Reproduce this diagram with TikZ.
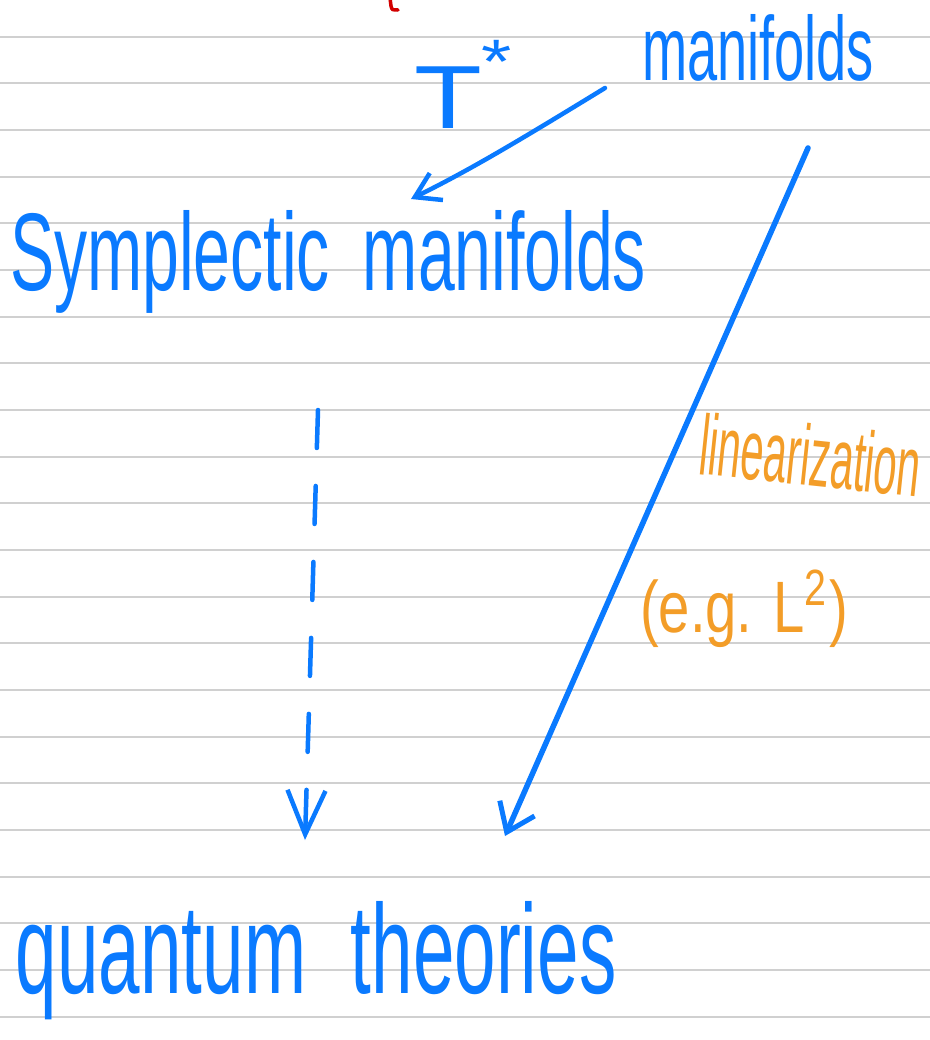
\documentclass[tikz,border=0pt]{standalone}
\usepackage{fontspec}
\setmainfont{Liberation Sans}
\usetikzlibrary{arrows.meta}
\definecolor{penblue}{RGB}{10,122,255}
\definecolor{penorange}{RGB}{243,157,40}
\definecolor{rule}{RGB}{208,208,208}
\definecolor{penred}{RGB}{210,0,0}
\begin{document}
\begin{tikzpicture}[x=1bp,y=-1bp,
  hw/.style={inner sep=0pt,outer sep=0pt,text=penblue},
  hwo/.style={inner sep=0pt,outer sep=0pt,text=penorange},
  pen/.style={draw=penblue,line width=4.5bp,line cap=round,line join=round},
  ruleline/.style={draw=rule,line width=2bp}]
\fill[white] (0,0) rectangle (930,1040);
\useasboundingbox (0,0) rectangle (930,1040);
% ruled paper
\foreach \k in {0,...,21}{
  \draw[ruleline] (0,{36.7+46.67*\k}) -- (930,{36.7+46.67*\k});
}
% red mark at top
\draw[draw=penred,line width=3.5bp,line cap=round] (390,-2) -- (391,6) .. controls (392,10) .. (398,10);
% texts
\node[hw,anchor=base west] (man) at (642,80) {\resizebox{232bp}{66bp}{manifolds}};
\node[hw,anchor=base west] (tstar) at (414,128) {\resizebox{98bp}{88bp}{T\raisebox{0.5em}{\scriptsize *}}};
\node[hw,anchor=base west] (symp) at (10,290) {\resizebox{636bp}{80bp}{Symplectic\hspace{0.5em}manifolds}};
\node[hw,anchor=base west] (quant) at (16,993) {\resizebox{600bp}{92bp}{quantum\hspace{0.6em}theories}};
\node[hwo,anchor=base west,rotate=-6] (lin) at (697,474) {\resizebox{222bp}{62bp}{linearization}};
\node[hwo,anchor=base west] (eg) at (640,632) {\resizebox{208bp}{62bp}{(e.g. L\textsuperscript{2})}};
% connector end points
\coordinate (a1s) at (605,88);
\coordinate (a1e) at (411,199);
\coordinate (a2s) at (318,410);
\coordinate (a2e) at (305,840);
\coordinate (a3s) at (808,148);
\coordinate (a3e) at (505,836);
% arrows
\draw[pen,-{Straight Barb[length=24bp,width=30bp,line width=4.5bp]}] (a1s) .. controls (520,140) and (470,170) .. (a1e);
\draw[pen,dash pattern=on 38bp off 38bp,-{Straight Barb[length=44bp,width=38bp,line width=4.5bp]}] (a2s) -- (a2e);
\draw[pen,line width=5.5bp,-{Straight Barb[length=26bp,width=38bp,line width=5bp]}] (a3s) -- (a3e);
\end{tikzpicture}
\end{document}
